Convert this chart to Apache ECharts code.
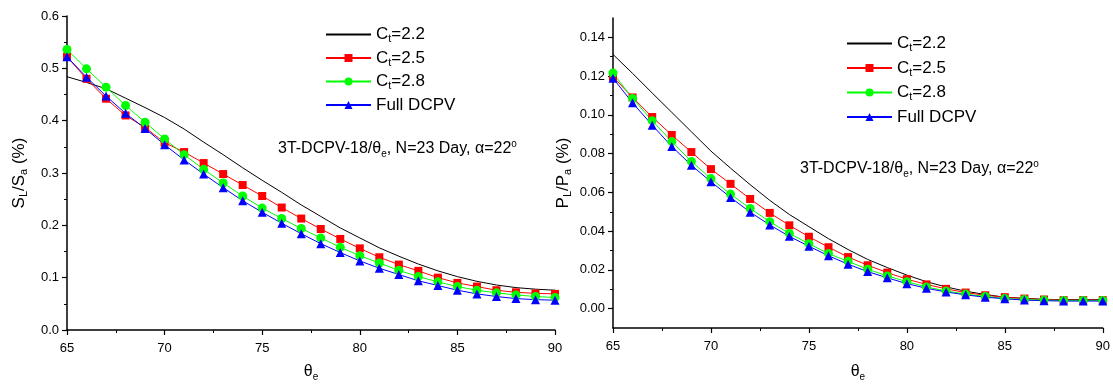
<!DOCTYPE html>
<html>
<head>
<meta charset="utf-8">
<title>SL/Sa and PL/Pa vs theta_e</title>
<script src="https://cdn.jsdelivr.net/npm/echarts@6.0.0/dist/echarts.min.js"></script>
<style>
  html, body { margin: 0; padding: 0; background: #fff; }
  #chart { width: 1113px; height: 387px; }
</style>
</head>
<body>
<div id="chart"></div>
<script>
// x values (theta_e, degrees)
var theta = [65, 66, 67, 68, 69, 70, 71, 72, 73, 74, 75, 76, 77, 78, 79, 80, 81, 82, 83, 84, 85, 86, 87, 88, 89, 90];

// left panel: S_L/S_a (%)
var sRatio22 = [0.484, 0.473, 0.461, 0.443, 0.425, 0.406, 0.384, 0.359, 0.335, 0.310, 0.286, 0.263, 0.239, 0.217, 0.195, 0.176, 0.157, 0.141, 0.126, 0.113, 0.102, 0.093, 0.086, 0.081, 0.078, 0.076];
var sRatio25 = [0.522, 0.480, 0.442, 0.410, 0.387, 0.358, 0.340, 0.319, 0.298, 0.277, 0.256, 0.234, 0.213, 0.193, 0.174, 0.156, 0.139, 0.125, 0.113, 0.100, 0.090, 0.083, 0.076, 0.072, 0.070, 0.069];
var sRatio28 = [0.536, 0.499, 0.464, 0.429, 0.397, 0.365, 0.335, 0.307, 0.281, 0.256, 0.233, 0.213, 0.194, 0.176, 0.158, 0.142, 0.128, 0.114, 0.102, 0.092, 0.083, 0.076, 0.071, 0.067, 0.064, 0.062];
var sRatioFull = [0.522, 0.483, 0.447, 0.414, 0.385, 0.354, 0.325, 0.298, 0.272, 0.247, 0.225, 0.204, 0.184, 0.165, 0.148, 0.132, 0.118, 0.106, 0.094, 0.085, 0.076, 0.069, 0.064, 0.060, 0.058, 0.057];

// right panel: P_L/P_a (%)
var pRatio22 = [0.1312, 0.1214, 0.1113, 0.1013, 0.0913, 0.0813, 0.0725, 0.0640, 0.0559, 0.0486, 0.0423, 0.0361, 0.0305, 0.0254, 0.0212, 0.0173, 0.0139, 0.0112, 0.0090, 0.0073, 0.0059, 0.0053, 0.0048, 0.0046, 0.0046, 0.0046];
var pRatio25 = [0.1197, 0.1090, 0.0989, 0.0896, 0.0808, 0.0720, 0.0644, 0.0566, 0.0494, 0.0430, 0.0371, 0.0317, 0.0266, 0.0224, 0.0186, 0.0152, 0.0125, 0.0102, 0.0083, 0.0069, 0.0059, 0.0052, 0.0047, 0.0044, 0.0044, 0.0044];
var pRatio28 = [0.1216, 0.1085, 0.0970, 0.0862, 0.0760, 0.0671, 0.0591, 0.0517, 0.0449, 0.0388, 0.0335, 0.0284, 0.0244, 0.0203, 0.0169, 0.0139, 0.0112, 0.0091, 0.0075, 0.0063, 0.0052, 0.0047, 0.0044, 0.0042, 0.0042, 0.0042];
var pRatioFull = [0.1189, 0.1062, 0.0947, 0.0837, 0.0740, 0.0655, 0.0574, 0.0498, 0.0432, 0.0373, 0.0322, 0.0273, 0.0229, 0.0191, 0.0159, 0.0129, 0.0105, 0.0086, 0.0071, 0.0059, 0.0051, 0.0044, 0.0041, 0.0039, 0.0039, 0.0039];

// tick values
var rightYTicks = [0.00, 0.02, 0.04, 0.06, 0.08, 0.10, 0.12, 0.14];
var rightYMinorTicks = [0.01, 0.03, 0.05, 0.07, 0.09, 0.11, 0.13];

var seriesNames = ['Ct=2.2', 'Ct=2.5', 'Ct=2.8', 'Full DCPV'];

var FONT = '"Liberation Sans", Arial, sans-serif';

function pairs(ys) {
    return theta.map(function (t, i) { return [t, ys[i]]; });
}

var rich = {
    n: { fontSize: 17, fontFamily: FONT, fontWeight: 'normal', color: '#000', lineHeight: 20 },
    s: { fontSize: 11, fontFamily: FONT, fontWeight: 'normal', color: '#000', lineHeight: 8, verticalAlign: 'bottom' },
    a: { fontSize: 16, fontFamily: FONT, fontWeight: 'normal', color: '#000', lineHeight: 20 },
    as: { fontSize: 10, fontFamily: FONT, fontWeight: 'normal', color: '#000', lineHeight: 8, verticalAlign: 'bottom' },
    sup: { fontSize: 10, fontFamily: FONT, fontWeight: 'normal', color: '#000', lineHeight: 9, verticalAlign: 'top' }
};

function legendText(name) {
    if (name.indexOf('Ct=') === 0) {
        return '{n|C}{s|t}{n|' + name.slice(2) + '}';
    }
    return '{n|' + name + '}';
}

// legend entries: the plain line (2.2) shows no marker
var legendData = [
    { name: seriesNames[0], itemStyle: { opacity: 0 } },
    seriesNames[1], seriesNames[2], seriesNames[3]
];

var annotation = '{a|3T-DCPV-18/θ}{as|e}{a|, N=23 Day, α=22}{sup|o}';

function xAxisFor(idx, gap) {
    return {
        type: 'value', gridIndex: idx, min: 65, max: 90, interval: 5,
        name: '{a|θ}{as|e}', nameLocation: 'middle', nameGap: gap,
        nameTextStyle: { rich: rich },
        axisLine: { onZero: false, lineStyle: { color: '#000', width: 1.5 } },
        axisTick: { length: 5, lineStyle: { color: '#000', width: 1.2 } },
        minorTick: { show: true, splitNumber: 2, length: 3, lineStyle: { color: '#000', width: 1 } },
        axisLabel: { color: '#000', fontSize: 13, fontFamily: FONT, margin: 12 },
        splitLine: { show: false }
    };
}

function makeSeries(idx, data) {
    var styles = [
        { color: '#000000', symbol: 'none', size: 0 },
        { color: '#ff0000', symbol: 'rect', size: 8 },
        { color: '#00ff00', symbol: 'circle', size: 9 },
        { color: '#0000ff', symbol: 'triangle', size: 9 }
    ];
    return data.map(function (ys, i) {
        var st = styles[i];
        return {
            name: seriesNames[i], type: 'line',
            xAxisIndex: idx, yAxisIndex: idx,
            data: pairs(ys),
            symbol: st.symbol, symbolSize: st.size, showSymbol: st.symbol !== 'none',
            lineStyle: { color: st.color, width: 1 },
            itemStyle: { color: st.color },
            emphasis: { disabled: true }
        };
    });
}

var chart = echarts.init(document.getElementById('chart'), null, { renderer: 'canvas' });

chart.setOption({
    animation: false,
    backgroundColor: '#fff',
    textStyle: { fontFamily: FONT },
    title: [
        { text: annotation, left: 278, top: 139, padding: 0, textStyle: { fontWeight: 'normal', rich: rich } },
        { text: annotation, left: 800, top: 159, padding: 0, textStyle: { fontWeight: 'normal', rich: rich } }
    ],
    legend: [
        {
            orient: 'vertical', left: 325, top: 26, padding: 0, itemWidth: 45, itemHeight: 10, itemGap: 5,
            data: legendData, selectedMode: false,
            formatter: legendText, textStyle: { rich: rich }
        },
        {
            orient: 'vertical', left: 846, top: 35, padding: 0, itemWidth: 45, itemHeight: 10, itemGap: 6,
            data: legendData, selectedMode: false,
            formatter: legendText, textStyle: { rich: rich }
        }
    ],
    grid: [
        { left: 67, right: 558, top: 16, bottom: 56 },
        { left: 613, right: 6, top: 18, bottom: 54 }
    ],
    xAxis: [xAxisFor(0, 32), xAxisFor(1, 34)],
    yAxis: [
        {
            type: 'value', gridIndex: 0, min: 0, max: 0.6, interval: 0.1,
            name: '{n|S}{s|L}{n|/S}{s|a}{n| (%)}', nameLocation: 'middle', nameGap: 38,
            nameTextStyle: { rich: rich },
            axisLine: { show: true, onZero: false, lineStyle: { color: '#000', width: 1.5 } },
            axisTick: { show: true, length: 5, lineStyle: { color: '#000', width: 1.2 } },
            minorTick: { show: true, splitNumber: 2, length: 3, lineStyle: { color: '#000', width: 1 } },
            axisLabel: { color: '#000', fontSize: 13, fontFamily: FONT, formatter: function (v) { return v.toFixed(1); } },
            splitLine: { show: false }
        },
        {
            type: 'value', gridIndex: 1, min: -0.01, max: 0.15, position: 'left',
            name: '{n|P}{s|L}{n|/P}{s|a}{n| (%)}', nameLocation: 'middle', nameGap: 40,
            nameTextStyle: { rich: rich },
            axisLine: { show: true, onZero: false, lineStyle: { color: '#000', width: 1.5 } },
            axisTick: { show: true, length: 5, customValues: rightYTicks, lineStyle: { color: '#000', width: 1.2 } },
            axisLabel: { color: '#000', fontSize: 13, fontFamily: FONT, customValues: rightYTicks,
                formatter: function (v) { return v.toFixed(2); } },
            splitLine: { show: false }
        },
        {
            // minor ticks of the right panel
            type: 'value', gridIndex: 1, min: -0.01, max: 0.15, position: 'left', offset: 0,
            axisLine: { show: false, onZero: false },
            axisTick: { show: true, length: 3, customValues: rightYMinorTicks, lineStyle: { color: '#000', width: 1 } },
            axisLabel: { show: false },
            splitLine: { show: false }
        }
    ],
    series: makeSeries(0, [sRatio22, sRatio25, sRatio28, sRatioFull])
        .concat(makeSeries(1, [pRatio22, pRatio25, pRatio28, pRatioFull]))
});
</script>
</body>
</html>
